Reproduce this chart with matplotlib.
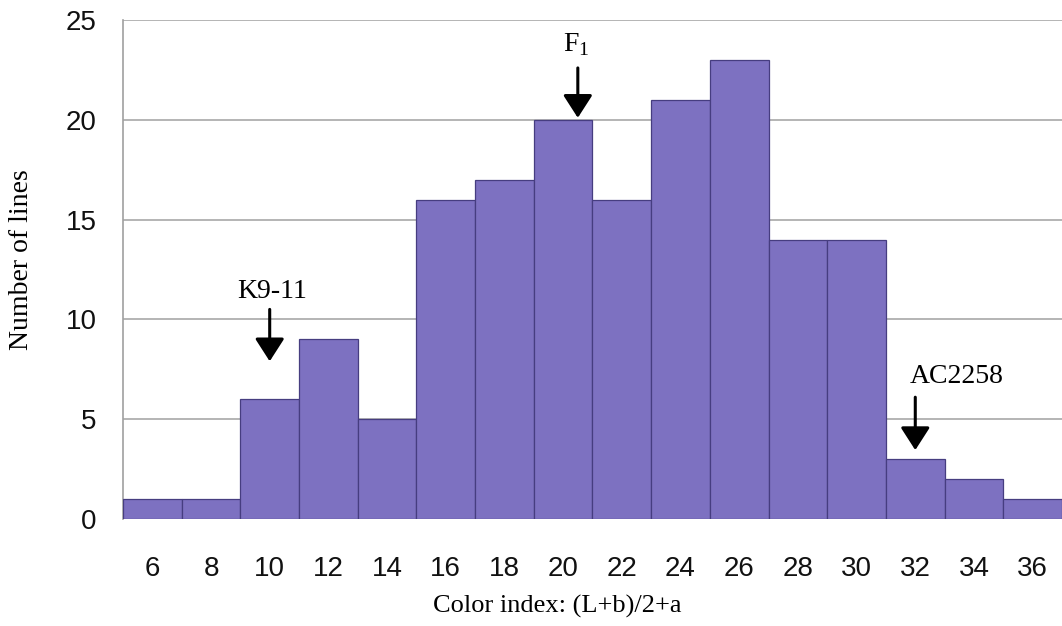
import matplotlib
matplotlib.use("Agg")
import matplotlib.pyplot as plt

# Histogram of colour index classes
color_index = [6, 8, 10, 12, 14, 16, 18, 20, 22, 24, 26, 28, 30, 32, 34, 36]
num_lines = [1, 1, 6, 9, 5, 16, 17, 20, 16, 21, 23, 14, 14, 3, 2, 1]
y_ticks = [0, 5, 10, 15, 20, 25]

# Marked lines: label, x position, arrow tip, arrow tail, label position
markers = [
    ("K9-11", 10.0, 7.9, 10.5, (10.1, 11.4)),
    (r"F$_\mathregular{1}$", 20.5, 20.1, 22.6, (20.45, 23.75)),
    ("AC2258", 32.0, 3.45, 6.1, (33.4, 7.15)),
]

serif = ["Liberation Serif", "DejaVu Serif"]
sans = ["Liberation Sans", "DejaVu Sans"]

fig = plt.figure(figsize=(10.62, 6.26), dpi=100)
ax = fig.add_axes([0.1158, 0.171, 0.8842, 0.797])

ax.bar(color_index, num_lines, width=2.0, color="#7d71c1",
       edgecolor="#463d80", linewidth=0.9, zorder=3)

ax.set_xlim(5, 37)
ax.set_ylim(0, 25)
ax.set_yticks(y_ticks)
ax.set_xticks(color_index)
ax.yaxis.grid(True, color="#a8a8a8", linewidth=1.2, zorder=0)
ax.set_axisbelow(True)

for side in ("top", "right", "bottom"):
    ax.spines[side].set_visible(False)
ax.spines["left"].set_color("#a0a0a0")
ax.spines["left"].set_linewidth(1.2)

ax.tick_params(axis="both", length=0)
ax.tick_params(axis="x", pad=27)
ax.tick_params(axis="y", pad=19)
for lbl in ax.get_xticklabels() + ax.get_yticklabels():
    lbl.set_fontfamily(sans)
    lbl.set_fontsize(20)
    lbl.set_color("#111111")

fig.text(557 / 1062, 1 - 606 / 626, "Color index: (L+b)/2+a", family=serif,
         fontsize=19, ha="center", va="center")
fig.text(22 / 1062, 1 - 260 / 626, "Number of lines", family=serif,
         fontsize=20, ha="center", va="center", rotation=90)

for text, x, tip, tail, (tx, ty) in markers:
    ax.annotate("", xy=(x, tip), xytext=(x, tail),
                arrowprops=dict(arrowstyle="-|>,head_length=1.4,head_width=0.9",
                                mutation_scale=10, color="black", lw=2.2,
                                shrinkA=0, shrinkB=0),
                zorder=5)
    ax.text(tx, ty, text, family=serif, fontsize=20, ha="center", va="center",
            zorder=5)

fig.savefig("out.png", dpi=100, facecolor="white")
